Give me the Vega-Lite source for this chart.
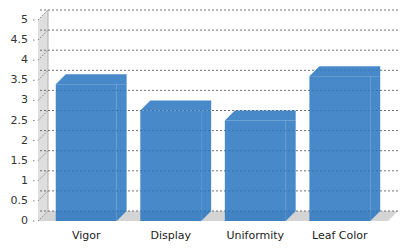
{
  "$schema": "https://vega.github.io/schema/vega-lite/v6.json",
  "autosize": "none",
  "width": 350,
  "height": 201,
  "padding": {"left": 38, "top": 20, "right": 22, "bottom": 29},
  "background": "white",
  "config": {"view": {"stroke": null}, "font": "DejaVu Sans"},
  "resolve": {"axis": {"x": "independent", "y": "independent"}, "scale": {"x": "shared", "y": "shared"}},
  "datasets": {
    "bars": [
      {"category": "Vigor", "value": 3.4},
      {"category": "Display", "value": 2.75},
      {"category": "Uniformity", "value": 2.5},
      {"category": "Leaf Color", "value": 3.6}
    ],
    "ticks": [
      {"t": 0}, {"t": 0.5}, {"t": 1}, {"t": 1.5}, {"t": 2}, {"t": 2.5},
      {"t": 3}, {"t": 3.5}, {"t": 4}, {"t": 4.5}, {"t": 5}
    ]
  },
  "layer": [
    {
      "data": {"values": [{}]},
      "mark": {"type": "point", "shape": "M0,0L0,-201L10,-211L10,-10Z", "size": 4, "filled": true, "fill": "#dedede", "opacity": 1, "strokeWidth": 0, "clip": false},
      "encoding": {"x": {"value": 0}, "y": {"datum": 0, "type": "quantitative", "axis": null}}
    },
    {
      "data": {"values": [{}]},
      "mark": {"type": "point", "shape": "M0,0L10,-10L360,-10L350,0Z", "size": 4, "filled": true, "fill": "#d4d4d4", "opacity": 1, "strokeWidth": 0, "clip": false},
      "encoding": {"x": {"value": 0}, "y": {"datum": 0, "type": "quantitative", "axis": null}}
    },
    {
      "data": {"values": [{}]},
      "mark": {"type": "point", "shape": "M10,-10L10,-211", "size": 4, "filled": false, "stroke": "#b0b0b0", "strokeWidth": 1, "opacity": 1, "clip": false},
      "encoding": {"x": {"value": 0}, "y": {"datum": 0, "type": "quantitative", "axis": null}}
    },
    {
      "data": {"name": "ticks"},
      "mark": {"type": "rule", "xOffset": 10, "x2Offset": 10, "yOffset": -10, "stroke": "#707070", "strokeWidth": 1, "strokeDash": [2, 2], "clip": false},
      "encoding": {"y": {"field": "t", "type": "quantitative", "axis": null}}
    },
    {
      "data": {"name": "ticks"},
      "mark": {"type": "point", "shape": "M0,0L10,-10M-5,0L-2,0", "size": 4, "filled": false, "stroke": "#808080", "strokeWidth": 1, "strokeDash": [1.5, 1.5], "opacity": 1, "clip": false},
      "encoding": {"x": {"value": 0}, "y": {"field": "t", "type": "quantitative", "axis": null}}
    },
    {
      "data": {"name": "ticks"},
      "mark": {"type": "text", "align": "right", "baseline": "middle", "dx": -10, "font": "DejaVu Sans", "fontSize": 11, "fill": "#333333", "clip": false},
      "encoding": {
        "x": {"value": 0},
        "y": {"field": "t", "type": "quantitative", "axis": null},
        "text": {"field": "t", "type": "quantitative", "format": "~g"}
      }
    },
    {
      "data": {"name": "bars"},
      "mark": {"type": "bar", "fill": "#2876bf", "fillOpacity": 0.85, "strokeWidth": 0},
      "encoding": {
        "x": {"field": "category", "type": "nominal", "sort": null,
              "scale": {"paddingInner": 0.28, "paddingOuter": 0.21},
              "axis": {"title": null, "labelAngle": 0, "ticks": false, "domain": false, "labelPadding": 8, "labelFont": "DejaVu Sans", "labelFontSize": 11, "labelColor": "#222222"}},
        "y": {"field": "value", "type": "quantitative",
              "scale": {"domain": [0, 5], "nice": false, "zero": true},
              "axis": null}
      }
    },
    {
      "data": {"name": "bars"},
      "mark": {"type": "bar", "width": 10, "xOffset": 35.43, "y2Offset": -10, "fill": "#2876bf", "fillOpacity": 0.85, "strokeWidth": 0},
      "encoding": {
        "x": {"field": "category", "type": "nominal", "sort": null, "axis": null},
        "y": {"field": "value", "type": "quantitative", "stack": null, "axis": null},
        "y2": {"datum": 0}
      }
    },
    {
      "data": {"name": "bars"},
      "mark": {"type": "point", "shape": "M-30.43,0L-20.43,-10L40.43,-10L40.43,0L30.43,0Z", "size": 4, "filled": true, "fill": "#2876bf", "fillOpacity": 0.85, "opacity": 1, "strokeWidth": 0, "clip": false},
      "encoding": {
        "x": {"field": "category", "type": "nominal", "sort": null, "axis": null},
        "y": {"field": "value", "type": "quantitative", "axis": null}
      }
    },
    {
      "data": {"name": "bars"},
      "mark": {"type": "point", "shape": "M30.43,-10L40.43,-10L30.43,0Z", "size": 4, "filled": true, "fill": "#2876bf", "fillOpacity": 0.85, "opacity": 1, "strokeWidth": 0, "clip": false},
      "encoding": {
        "x": {"field": "category", "type": "nominal", "sort": null, "axis": null},
        "y": {"datum": 0, "type": "quantitative", "axis": null}
      }
    }
  ]
}
